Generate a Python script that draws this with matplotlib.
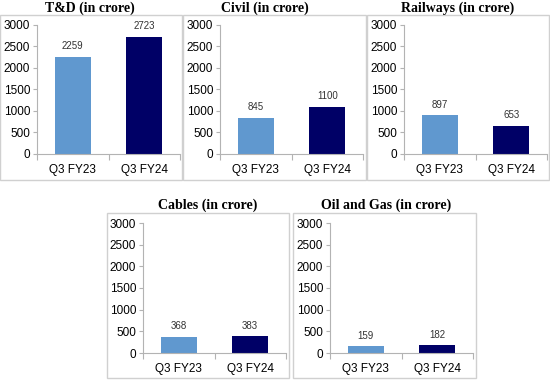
import matplotlib
matplotlib.use("Agg")
import matplotlib.pyplot as plt
from matplotlib.patches import Rectangle

titles = ["T&D (in crore)", "Civil (in crore)", "Railways (in crore)",
          "Cables (in crore)", "Oil and Gas (in crore)"]
categories = ["Q3 FY23", "Q3 FY24"]
values = [[2259, 2723], [845, 1100], [897, 653], [368, 383], [159, 182]]
yticks = [0, 500, 1000, 1500, 2000, 2500, 3000]

W, H = 550, 380
fig = plt.figure(figsize=(W / 100, H / 100), dpi=100)
fig.patch.set_facecolor("white")

# pixel layouts: box (x0, y0, x1, y1), axes (left, top, right, bottom), title center (x, y)
boxes = [(0, 15, 182, 180), (183, 15, 366, 180), (367, 15, 549, 180),
         (107, 213, 289, 378), (293, 213, 476, 378)]
axes_px = [(37, 25, 180, 154), (220, 25, 363, 154), (404, 25, 547, 154),
           (143, 223, 286, 353), (330, 223, 473, 353)]
title_pos = [(90, 8), (265, 8), (458, 8), (208, 205), (386, 205)]

colors = ["#6098CF", "#000066"]
axis_color = "#B3B3B3"

def fx(x):
    return x / W

def fy(y):
    return 1 - y / H

for i in range(5):
    bx0, by0, bx1, by1 = boxes[i]
    fig.patches.append(Rectangle((fx(bx0), fy(by1)), fx(bx1 - bx0), (by1 - by0) / H,
                                 transform=fig.transFigure, fill=False,
                                 edgecolor="#D0D0D0", linewidth=1.0, zorder=0))
    l, t, r, b = axes_px[i]
    ax = fig.add_axes([fx(l), fy(b), fx(r - l), (b - t) / H])
    xs = list(range(len(categories)))
    bars = ax.bar(xs, values[i], width=0.5, color=colors)
    ax.set_xlim(-0.5, 1.5)
    ax.set_ylim(0, 3000)
    ax.set_yticks(yticks)
    ax.set_yticklabels([str(v) for v in yticks], fontfamily="Liberation Sans", fontsize=8.5)
    ax.set_xticks(xs)
    ax.set_xticklabels(categories, fontfamily="Liberation Sans", fontsize=8.5)
    ax.set_xticks([-0.5, 0.5, 1.5], minor=True)
    ax.tick_params(axis="x", which="major", length=0, pad=7)
    ax.tick_params(axis="x", which="minor", length=4, width=0.8, color=axis_color, direction="out")
    ax.tick_params(axis="y", which="major", length=3, width=0.8, color=axis_color, pad=2)
    for s in ["top", "right"]:
        ax.spines[s].set_visible(False)
    for s in ["left", "bottom"]:
        ax.spines[s].set_color(axis_color)
        ax.spines[s].set_linewidth(0.8)
    for x, v in zip(xs, values[i]):
        ax.annotate(str(v), (x, v), xytext=(0, 4), textcoords="offset points",
                    ha="center", va="bottom", fontsize=7, color="#333333",
                    fontfamily="Liberation Sans")
    ax.set_facecolor("none")
    tx, ty = title_pos[i]
    fig.text(fx(tx), fy(ty), titles[i], ha="center", va="center",
             fontfamily="Liberation Serif", fontweight="bold", fontsize=10)

fig.savefig("out.png", dpi=100)
